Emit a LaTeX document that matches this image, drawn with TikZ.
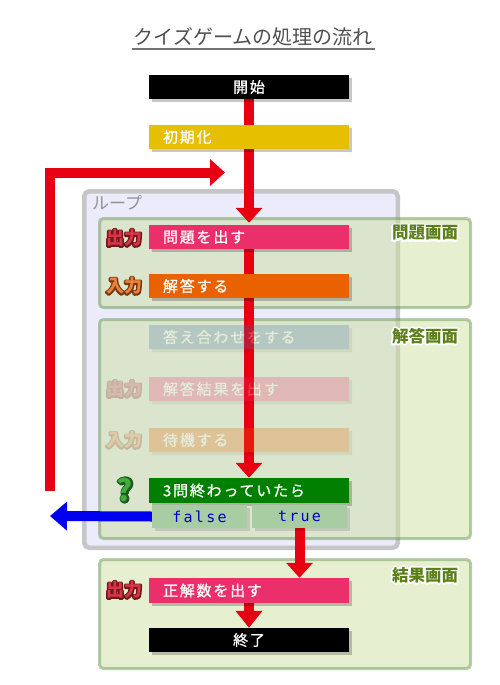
\documentclass[tikz,border=0pt]{standalone}
\usepackage{fontspec}
\newfontfamily\jpfont{Noto Sans CJK JP}
\newfontfamily\boxfont[LetterSpace=12,FakeBold=0.9]{Noto Sans CJK JP}
\newfontfamily\codefont[LetterSpace=15]{DejaVu Sans Mono}
\usetikzlibrary{arrows.meta,shadows}
\pgfdeclarelayer{back}
\pgfdeclarelayer{mid}
\pgfsetlayers{back,mid,main}
\definecolor{flowred}{HTML}{E60012}
\definecolor{exitblue}{HTML}{0000F0}
\definecolor{initgold}{HTML}{E5BF00}
\definecolor{outpink}{HTML}{EB2F6B}
\definecolor{inorange}{HTML}{EA6100}
\definecolor{checkblue}{HTML}{466EA0}
\definecolor{condgreen}{HTML}{007F00}
\definecolor{branchgreen}{HTML}{A9CDA2}
\definecolor{codeblue}{HTML}{0000CC}
\definecolor{loopfill}{HTML}{EBEBFB}
\definecolor{loopline}{HTML}{C6C6C6}
\definecolor{screenfill}{HTML}{CDE1A1}
\definecolor{screenline}{HTML}{6E9B5A}
\definecolor{screentext}{HTML}{5B7F1A}
\definecolor{titlegray}{HTML}{505050}
\definecolor{outdark}{HTML}{6E1A1A}
\definecolor{outred}{HTML}{D8344A}
\definecolor{indark}{HTML}{7A3810}
\definecolor{inlight}{HTML}{E9823A}
\definecolor{askdark}{HTML}{1E5A1E}
\definecolor{asklight}{HTML}{3FAE3F}
% text with a rim: rim colour, rim width, text
\newcommand{\rimtext}[3]{\leavevmode\rlap{\special{pdf:literal direct 2 Tr #2 w 1 j}\textcolor{#1}{#3}\special{pdf:literal direct 0 Tr}}#3}
\begin{document}
\begin{tikzpicture}[x=1pt,y=-1pt,
    stepbox/.style={minimum width=200pt, minimum height=24pt, inner sep=0pt,
      text=white, font=\boxfont\fontsize{15}{16}\selectfont,
      drop shadow={shadow xshift=3pt, shadow yshift=-3pt, fill=black, opacity=0.22}},
    leftbox/.style={stepbox, text width=172pt, align=left},
    branchbox/.style={minimum width=95pt, minimum height=23pt, inner sep=0pt,
      fill=branchgreen, text=codeblue, font=\codefont\fontsize{15}{16}\selectfont,
      drop shadow={shadow xshift=3pt, shadow yshift=-3pt, fill=black, opacity=0.12}},
    flow/.style={draw=flowred, line width=10pt, -{Triangle[width=26pt,length=15pt]}},
    screen/.style={fill=screenfill, fill opacity=0.5, draw=screenline, draw opacity=0.5,
      line width=3pt, rounded corners=4pt},
    screenlabel/.style={font=\jpfont\bfseries\fontsize{16.5}{18}\selectfont,
      text=screentext, inner sep=0pt},
    taglabel/.style={font=\jpfont\bfseries\fontsize{18}{20}\selectfont, inner sep=0pt},
    faded/.style={opacity=0.25, transparency group}]
  \useasboundingbox (0,0) rectangle (500,685);
  % title
  \node[font=\jpfont\fontsize{20}{24}\selectfont, text=titlegray] (title) at (253,37) {クイズゲームの処理の流れ};
  \draw[titlegray!80, line width=1.2pt] (132,49) -- (375,49);

  % steps
  \node[stepbox, fill=black] (start) at (249,87) {開始};
  \node[leftbox, fill=initgold] (init) at (249,137) {初期化};
  \node[leftbox, fill=outpink] (ask) at (249,237) {問題を出す};
  \node[leftbox, fill=inorange] (answer) at (249,286) {解答する};
  \begin{scope}[faded]
    \node[leftbox, fill=checkblue] (check) at (249,337) {答え合わせをする};
    \node[leftbox, fill=outpink] (result) at (249,389) {解答結果を出す};
    \node[leftbox, fill=inorange] (wait) at (249,440) {待機する};
    \node[taglabel, text=outred] (out2) at (124,389) {\rimtext{outdark}{3}{出力}};
    \node[taglabel, text=inlight] (in2) at (124,440) {\rimtext{indark}{3}{入力}};
  \end{scope}
  \node[leftbox, fill=condgreen, minimum height=25pt] (cond) at (249,490.5) {3問終わっていたら};
  \node[branchbox] (no) at (199.5,516.5) {false};
  \node[branchbox] (yes) at (299.5,516.5) {true};
  \node[leftbox, fill=outpink, minimum height=25pt] (score) at (249,590.5) {正解数を出す};
  \node[stepbox, fill=black] (finish) at (249,640) {終了};

  % input / output marks
  \node[taglabel, text=outred] (out1) at (124,238) {\rimtext{outdark}{3}{出力}};
  \node[taglabel, text=inlight] (in1) at (124,286) {\rimtext{indark}{3}{入力}};
  \node[taglabel, text=outred] (out3) at (124,590) {\rimtext{outdark}{3}{出力}};
  \node[taglabel, font=\jpfont\bfseries\fontsize{30}{30}\selectfont, text=asklight] (quest) at (125,490) {\rimtext{askdark}{3.5}{?}};

  \begin{pgfonlayer}{back}
    \draw[fill=loopfill, draw=loopline, line width=4.5pt, rounded corners=5pt]
      (84.25,191.25) rectangle (397.75,547.75);
    \node[anchor=west, inner sep=0pt, text=gray!85, font=\jpfont\fontsize{17}{18}\selectfont] (looptag) at (92,203) {ループ};
    \draw[screen] (99.5,218.5) rectangle (470.5,307.5);
    \draw[screen] (99.5,319.5) rectangle (470.5,538.5);
    \draw[screen] (99.5,559.5) rectangle (470.5,668.5);
    \node[screenlabel] (qscreen) at (425,233) {\rimtext{white}{3.5}{問題画面}};
    \node[screenlabel] (ascreen) at (425,336) {\rimtext{white}{3.5}{解答画面}};
    \node[screenlabel] (rscreen) at (425,575) {\rimtext{white}{3.5}{結果画面}};
  \end{pgfonlayer}

  \begin{pgfonlayer}{mid}
    \draw[draw=flowred, line width=10pt] (start.south) -- (init.north);
    \draw[flow, shorten >=2pt] (init.south) -- (ask.north);
    \draw[flow] (ask.south) -- (cond.north);
    \coordinate (loopfoot) at (50,491);
    \coordinate (loophook) at (225,172.5);
    \draw[flow] (loopfoot) |- (loophook);
    \coordinate (exit) at (50,516);
    \draw[flow, draw=exitblue, -{Triangle[width=28pt,length=17pt]}] (no.west) -- (exit);
    \draw[flow] (yes.south) -- (yes.south |- score.north);
    \draw[flow, -{Triangle[width=26pt,length=17pt]}] (score.south) -- (finish.north);
  \end{pgfonlayer}
\end{tikzpicture}
\end{document}
